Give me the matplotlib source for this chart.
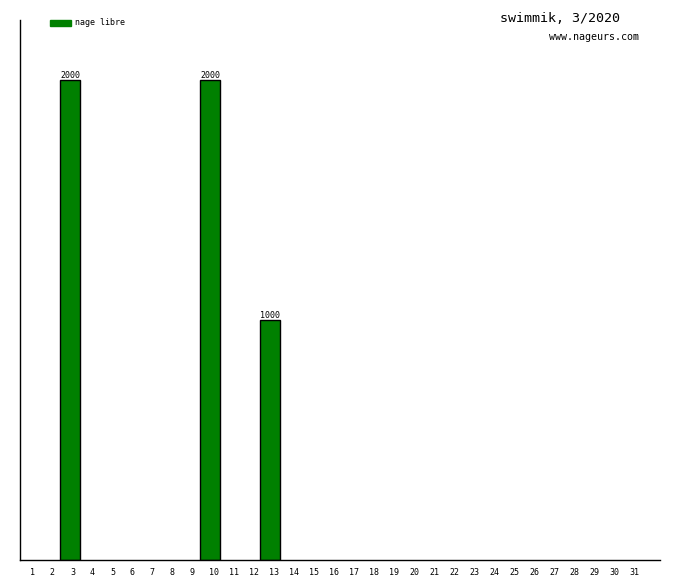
import matplotlib
matplotlib.use("Agg")
import matplotlib.pyplot as plt
from matplotlib.patches import Rectangle

# data
days = list(range(1, 32))
distances = {3: 2000, 10: 2000, 13: 1000}
series_label = "nage libre"
title = "swimmik, 3/2020"
site = "www.nageurs.com"
bar_color = "#008000"

plt.rcParams['font.family'] = ['DejaVu Sans Mono']

W, H = 680, 580
fig = plt.figure(figsize=(W / 100, H / 100), dpi=100)
ax = fig.add_axes([20 / W, 20 / H, 640 / W, 540 / H])

xs = [d for d in days if distances.get(d, 0) > 0]
ys = [distances[d] for d in xs]
ax.bar(xs, ys, width=1.0, align='edge', color=bar_color,
       edgecolor='black', linewidth=1.0)
for x, y in zip(xs, ys):
    ax.text(x + 0.5, y + 2, str(y), ha='center', va='bottom', fontsize=6)

ax.set_xlim(1, 33)
ax.set_ylim(0, 2250)
ax.set_xticks([d + (0.62 if d < 10 else 0.72) for d in days])
ax.set_xticklabels([str(d) for d in days], fontsize=6)
ax.tick_params(axis='x', length=0, pad=6)
ax.set_yticks([])
ax.spines['top'].set_visible(False)
ax.spines['right'].set_visible(False)
for s in ('left', 'bottom'):
    ax.spines[s].set_linewidth(1.0)

# legend
fig.patches.append(Rectangle((50 / W, 1 - 26 / H), 21 / W, 6 / H,
                             transform=fig.transFigure, color=bar_color))
fig.text(75 / W, 1 - 22.5 / H, series_label, fontsize=6, va='center', ha='left')

fig.text(560 / W, 1 - 18 / H, title, fontsize=9.6, va='center', ha='center')
fig.text(639 / W, 1 - 37 / H, site, fontsize=7.2, va='center', ha='right')

fig.savefig("out.png", dpi=100)
